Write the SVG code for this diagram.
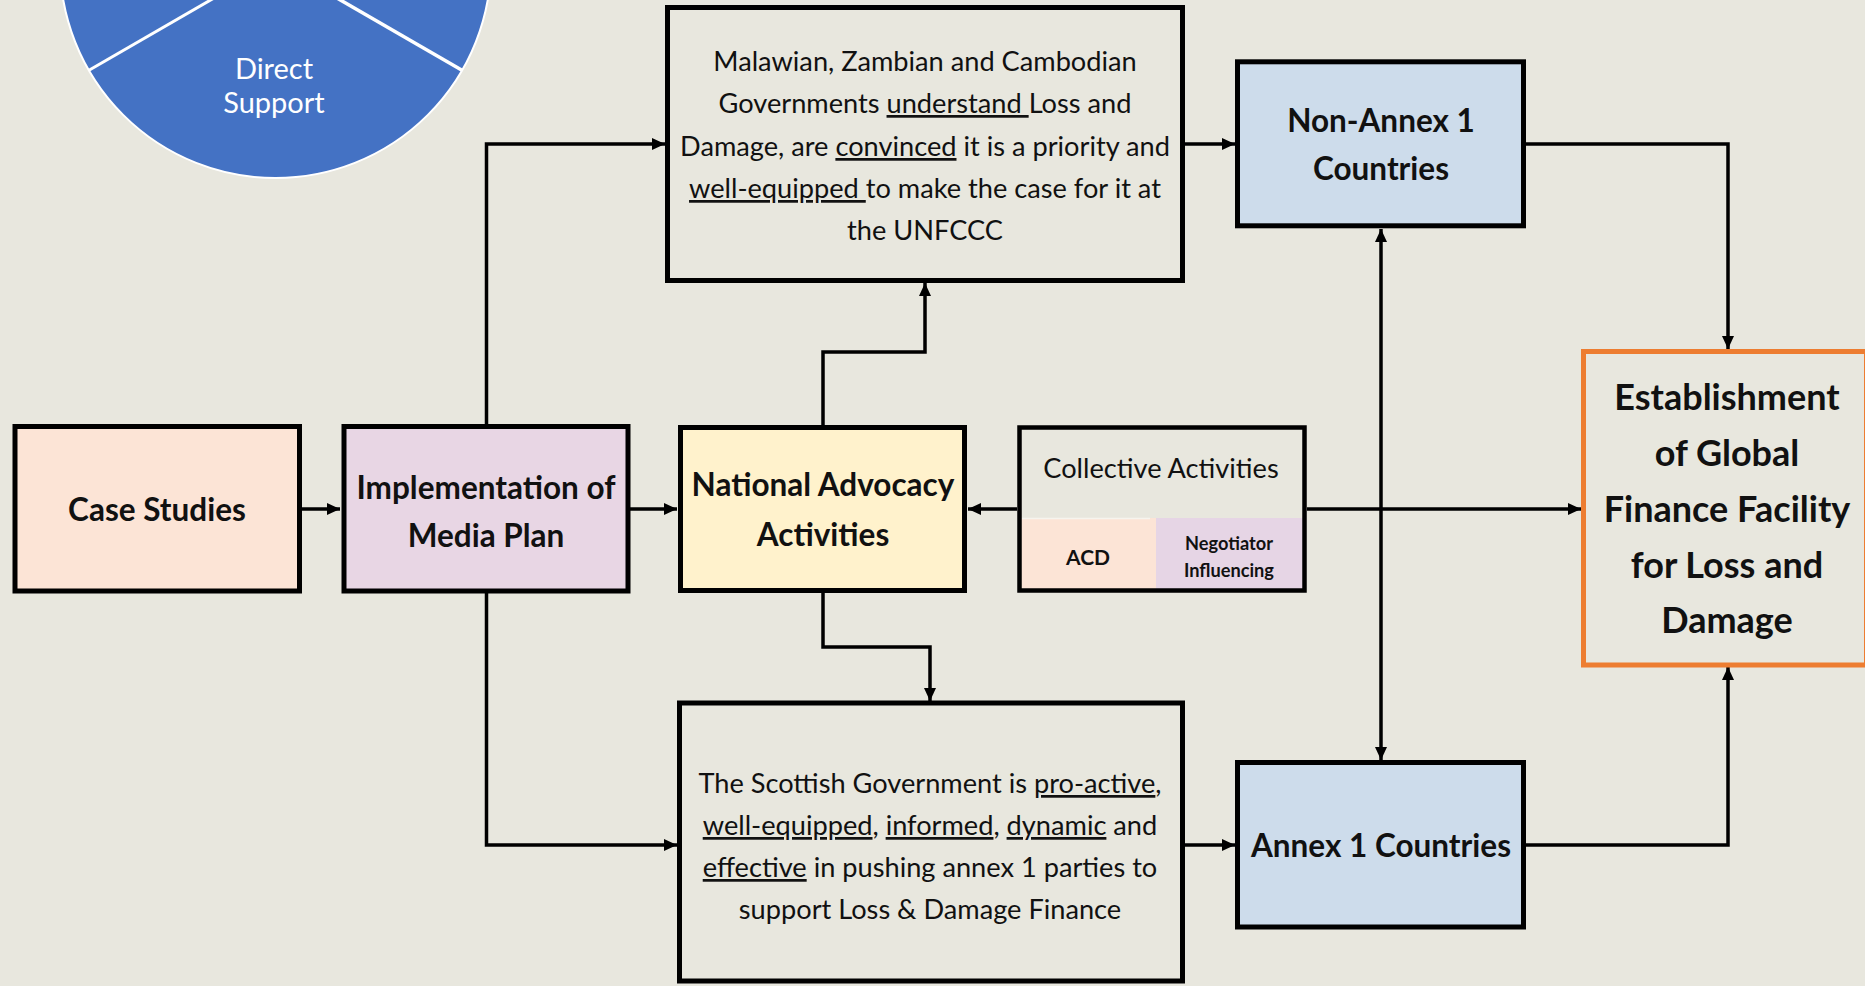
<svg xmlns="http://www.w3.org/2000/svg" width="1865" height="986" viewBox="0 0 1865 986">
<defs>
<style>
.bg{fill:#e8e7de}
.box{stroke:#000;stroke-width:5}
.t{font-family:Lato,"Open Sans","Liberation Sans",sans-serif;fill:#111;text-anchor:middle}
.r{font-size:27.2px;font-weight:400}
.b{font-size:31.5px;font-weight:700}
.e{font-size:36px;font-weight:700}
.u{text-decoration:underline}
.c{fill:none;stroke:#000;stroke-width:3.5}
</style>
<marker id="ah" viewBox="0 0 13 12" refX="13" refY="6" markerWidth="13" markerHeight="12" markerUnits="userSpaceOnUse" orient="auto-start-reverse">
<path d="M0,0 L13,6 L0,12 z" fill="#000"/>
</marker>
</defs>
<rect class="bg" x="0" y="0" width="1865" height="986"/>

<g id="pie">
<circle cx="275.5" cy="-37.5" r="215.5" fill="#4472c4" stroke="#fff" stroke-width="2"/>
<line x1="275.5" y1="-37.5" x2="89" y2="70.3" stroke="#fff" stroke-width="3"/>
<line x1="275.5" y1="-37.5" x2="462" y2="70.3" stroke="#fff" stroke-width="3.5"/>
<text class="t" x="274" y="79" style="font-size:29px;fill:#fff">Direct</text>
<text class="t" x="274" y="113" style="font-size:29px;fill:#fff">Support</text>
</g>

<g id="connectors">
<path class="c" d="M302 509 H340" marker-end="url(#ah)"/>
<path class="c" d="M630 509 H677" marker-end="url(#ah)"/>
<path class="c" d="M1017 509 H968" marker-end="url(#ah)"/>
<path class="c" d="M1307 509 H1581" marker-end="url(#ah)"/>
<path class="c" d="M486.5 424 V144 H665" marker-end="url(#ah)"/>
<path class="c" d="M486.5 593 V845 H677" marker-end="url(#ah)"/>
<path class="c" d="M823 425 V352 H925 V283" marker-end="url(#ah)"/>
<path class="c" d="M823 593 V647 H930 V701" marker-end="url(#ah)"/>
<path class="c" d="M1185 144 H1235" marker-end="url(#ah)"/>
<path class="c" d="M1185 845 H1235" marker-end="url(#ah)"/>
<path class="c" d="M1525 144 H1728 V349" marker-end="url(#ah)"/>
<path class="c" d="M1525 845 H1728 V667" marker-end="url(#ah)"/>
<path class="c" d="M1381 760 V229" marker-start="url(#ah)" marker-end="url(#ah)"/>
</g>

<g id="case-studies">
<rect class="box" x="15" y="426.5" width="284.5" height="164.5" fill="#fce4d6"/>
<text class="t b" x="157" y="521">Case Studies</text>
</g>

<g id="media-plan">
<rect class="box" x="344" y="426.5" width="284" height="164.5" fill="#e8d6e4"/>
<text class="t b" x="486" y="498.5">Implementation of</text>
<text class="t b" x="486" y="546.5">Media Plan</text>
</g>

<g id="national-advocacy">
<rect class="box" x="680.5" y="427.5" width="284" height="163" fill="#fff2cc"/>
<text class="t b" x="823" y="496">National Advocacy</text>
<text class="t b" x="823" y="546">Activities</text>
</g>

<g id="collective-activities">
<rect x="1021" y="518" width="135" height="71" fill="#fce4d6"/>
<rect x="1156" y="518" width="147" height="71" fill="#e6d5e5"/>
<line x1="1022" y1="518.5" x2="1150" y2="518.5" stroke="#f6f4ee" stroke-width="1.5"/>
<rect x="1019.5" y="427.5" width="285" height="163" fill="none" stroke="#000" stroke-width="4.5"/>
<text class="t r" x="1161" y="478">Collective Activities</text>
<text class="t" x="1088" y="565" style="font-size:21px;font-weight:700">ACD</text>
<text class="t" x="1229" y="550" style="font-size:18.2px;font-weight:700">Negotiator</text>
<text class="t" x="1229" y="577" style="font-size:18.2px;font-weight:700">Influencing</text>
</g>

<g id="southern-governments">
<rect class="box" x="667.5" y="7.5" width="515" height="273" fill="#e8e7de"/>
<text class="t r" x="925" y="71">Malawian, Zambian and Cambodian</text>
<text class="t r" x="925" y="113">Governments <tspan class="u">understand </tspan>Loss and</text>
<text class="t r" x="925" y="156">Damage, are <tspan class="u">convinced</tspan> it is a priority and</text>
<text class="t r" x="925" y="198"><tspan class="u">well-equipped </tspan>to make the case for it at</text>
<text class="t r" x="925" y="240">the UNFCCC</text>
</g>

<g id="non-annex-1">
<rect class="box" x="1237.5" y="61.8" width="286" height="164" fill="#cddceb"/>
<text class="t b" x="1381" y="132">Non-Annex 1</text>
<text class="t b" x="1381" y="179.5">Countries</text>
</g>

<g id="scottish-government">
<rect class="box" x="679.5" y="703" width="503" height="278" fill="#e8e7de"/>
<text class="t r" x="930" y="793">The Scottish Government is <tspan class="u">pro-active</tspan>,</text>
<text class="t r" x="930" y="835"><tspan class="u">well-equipped</tspan>, <tspan class="u">informed</tspan>, <tspan class="u">dynamic</tspan> and</text>
<text class="t r" x="930" y="877"><tspan class="u">effective</tspan> in pushing annex 1 parties to</text>
<text class="t r" x="930" y="919">support Loss &amp; Damage Finance</text>
</g>

<g id="annex-1">
<rect class="box" x="1237.5" y="762.5" width="286" height="164.5" fill="#cddceb"/>
<text class="t b" x="1381" y="856.5">Annex 1 Countries</text>
</g>

<g id="global-facility">
<rect x="1583.5" y="351.5" width="283" height="313.5" fill="#e8e7de" stroke="#ed7d31" stroke-width="5"/>
<text class="t e" x="1727" y="410">Establishment</text>
<text class="t e" x="1727" y="466">of Global</text>
<text class="t e" x="1727" y="522">Finance Facility</text>
<text class="t e" x="1727" y="578">for Loss and</text>
<text class="t e" x="1727" y="633">Damage</text>
</g>
</svg>
